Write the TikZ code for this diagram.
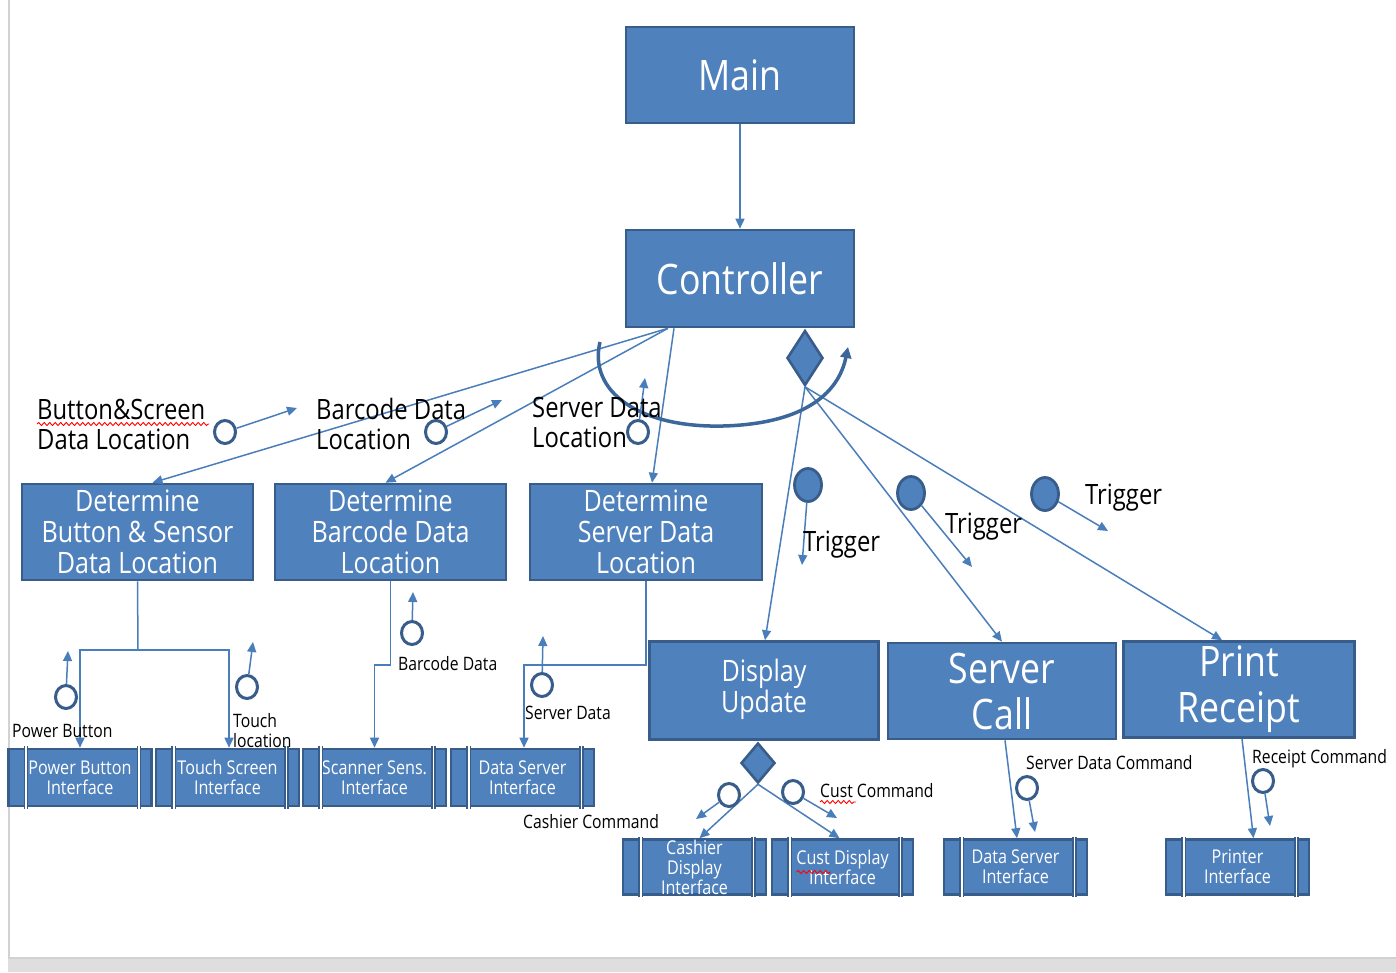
\documentclass[tikz,border=0pt]{standalone}
\usepackage{fontspec}
\setmainfont{Open Sans}[FakeStretch=0.85]
\usetikzlibrary{arrows.meta,shapes.geometric,decorations.pathmorphing}

\definecolor{boxfill}{HTML}{4F81BD}
\definecolor{boxline}{HTML}{385D8A}
\definecolor{wirecol}{HTML}{4A7EBB}
\definecolor{loopcol}{HTML}{3B679B}
\definecolor{pagegray}{HTML}{DEDEDE}
\definecolor{edgegray}{HTML}{D2D2D2}

\newcommand\fntHuge{\fontsize{42}{46}\selectfont}
\newcommand\fntMid{\fontsize{29.5}{31}\selectfont}
\newcommand\fntLbl{\fontsize{28}{30}\selectfont}
\newcommand\fntSmall{\fontsize{18.5}{20}\selectfont}
\newcommand\fntIface{\fontsize{19}{20}\selectfont}

\begin{document}
\begin{tikzpicture}[x=1pt,y=-1pt,
  box/.style={draw=boxline, line width=2.6pt, fill=boxfill, text=white,
    inner sep=0pt, align=center},
  bigbox/.style={box, minimum width=228pt, minimum height=96pt, font=\fntHuge},
  detbox/.style={box, minimum width=231pt, minimum height=96pt, font=\fntMid},
  iface/.style={draw=boxline, line width=2.6pt, fill=boxfill, inner sep=0pt,
    minimum width=143pt},
  itext/.style={text=white, inner sep=0pt, align=center, font=\fntIface},
  divdark/.style={draw=boxline, line width=4.5pt},
  divwhite/.style={draw=white, line width=1.6pt},
  wire/.style={draw=wirecol, line width=1.5pt,
    -{Triangle[length=10pt,width=9pt]}},
  plain/.style={draw=wirecol, line width=1.5pt},
  ring/.style={ellipse, draw=boxline, line width=3pt, inner sep=0pt,
    minimum width=21pt, minimum height=23pt},
  trig/.style={ellipse, draw=boxline, fill=boxfill, line width=2.8pt,
    inner sep=0pt, minimum width=27pt, minimum height=33pt},
  choice/.style={diamond, draw=boxline, fill=boxfill, line width=2.6pt,
    inner sep=0pt},
  lbl/.style={inner sep=0pt, align=left, anchor=base west, font=\fntLbl},
  slbl/.style={inner sep=0pt, align=left, anchor=base west, font=\fntSmall},
  squig/.style={draw=red, line width=0.9pt,
    decorate, decoration={snake, amplitude=1.5pt, segment length=5.5pt}}
]
\useasboundingbox (0,0) rectangle (1396,972);
\fill[white] (0,0) rectangle (1396,972);
\fill[pagegray] (8,958) rectangle (1396,972);
\draw[edgegray, line width=2pt] (9,0) -- (9,958) -- (1396,958);

% top of the hierarchy
\node[bigbox] (main) at (740,75) {\raisebox{-2pt}{Main}};
\node[bigbox, minimum height=97pt] (ctrl) at (740,278.5) {Controller};
\node[choice, minimum width=36pt, minimum height=55pt] (dia) at (805,358) {};

% location determination modules
\node[detbox] (d1) at (137.5,532) {Determine\\Button \& Sensor\\Data Location};
\node[detbox] (d2) at (390.5,532) {Determine\\Barcode Data\\Location};
\node[detbox, minimum width=232pt] (d3) at (646,532) {Determine\\Server Data\\Location};

% triggered modules
\node[box, minimum width=229pt, minimum height=98pt, font=\fntMid] (du) at (764,690.5) {\raisebox{-4pt}{\begin{tabular}{@{}c@{}}Display\\Update\end{tabular}}};
\node[box, minimum width=228pt, minimum height=96pt, font=\fntHuge] (sc) at (1002,691) {Server\\Call};
\node[box, minimum width=231pt, minimum height=96pt, font=\fntHuge] (pr) at (1239,689.5) {Print\\Receipt};
\node[choice, minimum width=34pt, minimum height=40pt] (dd) at (758,763) {};

% device interfaces
\node[iface, minimum height=57pt, label={[itext]center:{Power Button\\Interface}}] (pbi) at (80,777.5) {};
\node[iface, minimum height=57pt, label={[itext]center:{Touch Screen\\Interface}}] (tsi) at (227.5,777.5) {};
\node[iface, minimum height=57pt, label={[itext]center:{Scanner Sens.\\Interface}}] (ssi) at (374.5,777.5) {};
\node[iface, minimum height=57pt, label={[itext]center:{Data Server\\Interface}}] (dsil) at (522.5,777.5) {};
\node[iface, minimum height=55pt, label={[itext]center:{Cashier\\Display\\Interface}}] (cdi) at (694.5,867) {};
\node[iface, minimum width=141pt, minimum height=55pt, label={[itext]center:{Cust Display\\Interface}}] (cudi) at (842.5,867) {};
\node[iface, minimum height=55pt, label={[itext]center:{Data Server\\Interface}}] (dsir) at (1015.5,867) {};
\node[iface, minimum height=55pt, label={[itext]center:{Printer\\Interface}}] (pi) at (1237.5,867) {};
\foreach \n in {pbi,tsi,ssi,dsil,cdi,cudi,dsir,pi} {
  \draw[divdark] ([xshift=19pt,yshift=1.3pt]\n.north west) -- ([xshift=19pt,yshift=-1.3pt]\n.south west);
  \draw[divdark] ([xshift=-14pt,yshift=1.3pt]\n.north east) -- ([xshift=-14pt,yshift=-1.3pt]\n.south east);
  \draw[divwhite] ([xshift=19pt,yshift=1.4pt]\n.north west) -- ([xshift=19pt,yshift=-1.4pt]\n.south west);
  \draw[divwhite] ([xshift=-14pt,yshift=1.4pt]\n.north east) -- ([xshift=-14pt,yshift=-1.4pt]\n.south east);
}

% control flow
\draw[wire] (main.south) -- (ctrl.north);
\draw[wire] ([xshift=-72pt]ctrl.south) -- ([xshift=15pt]d1.north);
\draw[wire] ([xshift=-72pt]ctrl.south) -- ([xshift=-5pt]d2.north);
\draw[wire] ([xshift=-66pt]ctrl.south) -- ([xshift=6pt]d3.north);
\draw[wire] (dia.south) -- ([xshift=1pt]du.north);
\draw[wire] (dia.south) -- (sc.north);
\draw[wire] (dia.south) -- ([xshift=-17pt]pr.north);

\coordinate (j1) at (138,650);
\draw[plain] (d1.south) -- (j1);
\draw[wire] (j1) -| (pbi.north);
\draw[wire] (j1) -| ([xshift=1.5pt]tsi.north);
\coordinate (j2) at (374.5,665);
\draw[wire] (d2.south) |- (j2) -- (ssi.north);
\coordinate (j3) at (524,665);
\draw[wire] (d3.south) |- (j3) -- ([xshift=1.5pt]dsil.north);

\draw[wire] (dd.south) -- ([xshift=5pt]cdi.north);
\draw[wire] (dd.south) -- ([xshift=-3pt]cudi.north);
\draw[wire] ([xshift=3pt]sc.south) -- ([xshift=1.5pt]dsir.north);
\draw[wire] ([xshift=3pt]pr.south) -- ([xshift=16pt]pi.north);

% loop around the controller calls
\coordinate (lpA) at (600,342);
\coordinate (lpB) at (723,426);
\coordinate (lpC) at (848,347);
\draw[draw=loopcol, line width=3.5pt, -{Triangle[length=11pt,width=11pt]}]
  (lpA) .. controls (588,392) and (640,428) .. (lpB)
        .. controls (800,424) and (838,396) .. (lpC);

% data couples
\node[ring] (r1) at (225,432) {};
\coordinate (r1t) at (297,408);
\draw[wire] (r1.18) -- (r1t);
\node[ring] (r2) at (436,432) {};
\coordinate (r2t) at (502,400);
\draw[wire] (r2.28) -- (r2t);
\node[ring] (r3) at (638,432) {};
\coordinate (r3t) at (645,378);
\draw[wire] (r3.83) -- (r3t);

\node[ring] (p1) at (66,697) {};
\coordinate (p1t) at (68,651);
\draw[wire] (p1.88) -- (p1t);
\node[ring] (p2) at (247,687) {};
\coordinate (p2t) at (253,642);
\draw[wire] (p2.82) -- (p2t);
\node[ring] (p3) at (412,633) {};
\coordinate (p3t) at (413,592);
\draw[wire] (p3.89) -- (p3t);
\node[ring] (p4) at (542,685) {};
\coordinate (p4t) at (543,636);
\draw[wire] (p4.89) -- (p4t);

\node[ring] (q1) at (729,795) {};
\coordinate (q1t) at (696,819);
\draw[wire] (q1.-144) -- (q1t);
\node[ring] (q2) at (793,792) {};
\coordinate (q2t) at (837,818);
\draw[wire] (q2.-31) -- (q2t);
\node[ring] (q3) at (1027,788) {};
\coordinate (q3t) at (1035,832);
\draw[wire] (q3.-80) -- (q3t);
\node[ring] (q4) at (1263,781) {};
\coordinate (q4t) at (1270,826);
\draw[wire] (q4.-81) -- (q4t);

% control flags
\node[trig] (t1) at (808,485) {};
\coordinate (t1t) at (802,565);
\draw[wire] (t1.-94) -- (t1t);
\node[trig] (t2) at (911,493) {};
\coordinate (t2t) at (972,567);
\draw[wire] (t2.-50) -- (t2t);
\node[trig] (t3) at (1045,494) {};
\coordinate (t3t) at (1108,531);
\draw[wire] (t3.-30) -- (t3t);

% labels (base anchor sits on the last line)
\node[lbl] (l1) at (37,449) {Button\&Screen\\Data Location};
\node[lbl] (l2) at (316,449) {Barcode Data\\Location};
\node[lbl] (l3) at (532,447) {Server Data\\Location};
\node[lbl] (l4) at (803,551) {Trigger};
\node[lbl] (l5) at (945,533) {Trigger};
\node[lbl] (l6) at (1085,504) {Trigger};
\node[slbl] (s1) at (12,737) {Power Button};
\node[slbl] (s2) at (233,747) {Touch\\location};
\node[slbl] (s3) at (398,670) {Barcode Data};
\node[slbl] (s4) at (525,719) {Server Data};
\node[slbl] (s5) at (523,828) {Cashier Command};
\node[slbl] (s6) at (820,797) {Cust Command};
\node[slbl] (s7) at (1026,769) {Server Data Command};
\node[slbl] (s8) at (1252,763) {Receipt Command};

% spelling marks
\draw[squig] ([yshift=25pt]l1.base west) -- ++(172,0);
\draw[squig] ([yshift=-5pt]s6.base west) -- ++(36,0);
\draw[squig] ([xshift=-46pt,yshift=-5pt]cudi.center) -- ++(34,0);
\end{tikzpicture}
\end{document}
